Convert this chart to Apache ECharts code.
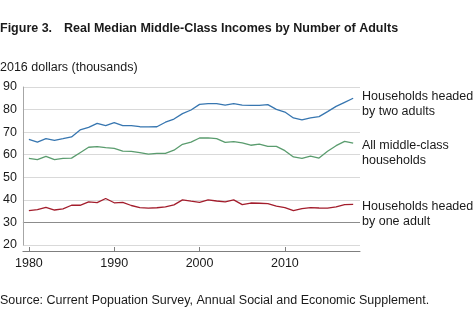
<!DOCTYPE html>
<html>
<head>
<meta charset="utf-8">
<script src="https://cdn.jsdelivr.net/npm/echarts@6/dist/echarts.min.js"></script>
<style>
html,body{margin:0;padding:0;background:#fff;}
#chart{width:474px;height:329px;}
</style>
</head>
<body>
<div id="chart"></div>
<script>
var years = [];
for (var y = 1980; y <= 2018; y++) years.push(y);

var twoAdults = [66.8,65.6,67.1,66.4,67.1,67.9,71.0,72.1,73.9,72.9,74.2,72.9,72.9,72.4,72.3,72.4,74.4,75.8,78.2,79.8,82.3,82.6,82.6,82.0,82.6,82.0,81.9,81.9,82.2,80.1,78.9,76.3,75.4,76.3,76.9,79.1,81.4,83.2,85.0];
var allMiddle = [58.4,57.8,59.3,57.8,58.4,58.5,60.9,63.3,63.6,63.1,62.8,61.6,61.5,60.9,60.3,60.6,60.6,62.0,64.6,65.6,67.4,67.5,67.1,65.5,65.8,65.2,64.2,64.7,63.7,63.7,61.8,59.0,58.4,59.4,58.5,61.5,64.0,65.9,65.1];
var oneAdult = [35.2,35.7,36.7,35.5,36.0,37.6,37.6,39.1,38.8,40.6,38.7,38.9,37.5,36.6,36.3,36.5,36.9,37.8,40.0,39.4,38.9,40.0,39.5,39.1,40.0,37.9,38.6,38.5,38.3,37.2,36.6,35.2,36.1,36.6,36.4,36.3,36.9,37.9,38.0];
var xTicks = [1980,1990,2000,2010];
var seriesNames = ['Households headed by two adults','All middle-class households','Households headed by one adult'];

var FONT = 'Liberation Sans, Arial, sans-serif';
var TXT = '#1a1a1a';
var FS = 12.5;

function pairs(vals){ return years.map(function(yr,i){ return [yr, vals[i]]; }); }

var chart = echarts.init(document.getElementById('chart'), null, {renderer:'canvas'});
chart.setOption({
  animation:false,
  backgroundColor:'#fff',
  grid:{left:20, right:114, top:87, bottom:84, containLabel:false},
  xAxis:{
    type:'value', min:1979.3, max:2018.8, offset:6,
    splitLine:{show:false},
    axisLine:{show:true, lineStyle:{color:'#7f7f7f', width:1}},
    axisTick:{show:true, inside:true, length:4, customValues:xTicks, lineStyle:{color:'#7f7f7f'}},
    axisLabel:{customValues:xTicks, color:TXT, fontFamily:FONT, fontSize:FS, margin:6, formatter:function(v){return String(v);}}
  },
  yAxis:{
    type:'value', min:20, max:90, interval:10,
    axisLine:{show:true, lineStyle:{color:'#a6a6a6', width:1}},
    axisTick:{show:false},
    axisLabel:{color:TXT, fontFamily:FONT, fontSize:FS, margin:6},
    splitLine:{show:true, lineStyle:{color:['#d9d9d9','#8c8c8c','#d9d9d9','#d9d9d9','#d9d9d9','#d9d9d9','#d9d9d9','#d9d9d9'], width:1}}
  },
  series:[
    {name:seriesNames[0], type:'line', data:pairs(twoAdults), showSymbol:false, lineStyle:{color:'#3776b0', width:1.3}, itemStyle:{color:'#3776b0'}},
    {name:seriesNames[1], type:'line', data:pairs(allMiddle), showSymbol:false, lineStyle:{color:'#5a9c6e', width:1.3}, itemStyle:{color:'#5a9c6e'}},
    {name:seriesNames[2], type:'line', data:pairs(oneAdult), showSymbol:false, lineStyle:{color:'#a31d2c', width:1.3}, itemStyle:{color:'#a31d2c'}}
  ],
  graphic:[
    {type:'text', left:0, top:22, style:{text:'Figure 3.', font:'bold '+FS+'px '+FONT, fill:TXT}},
    {type:'text', left:64, top:22, style:{text:'Real Median Middle-Class Incomes by Number of Adults', font:'bold '+FS+'px '+FONT, fill:TXT}},
    {type:'text', left:0, top:61, style:{text:'2016 dollars (thousands)', font:FS+'px '+FONT, fill:TXT}},
    {type:'text', left:362, top:89, style:{text:'Households headed\nby two adults', font:FS+'px '+FONT, fill:TXT, lineHeight:15}},
    {type:'text', left:362, top:138, style:{text:'All middle-class\nhouseholds', font:FS+'px '+FONT, fill:TXT, lineHeight:15}},
    {type:'text', left:362, top:199, style:{text:'Households headed\nby one adult', font:FS+'px '+FONT, fill:TXT, lineHeight:15}},
    {type:'text', left:0, top:294, style:{text:'Source: Current Popuation Survey, Annual Social and Economic Supplement.', font:FS+'px '+FONT, fill:TXT}}
  ]
});
</script>
</body>
</html>
